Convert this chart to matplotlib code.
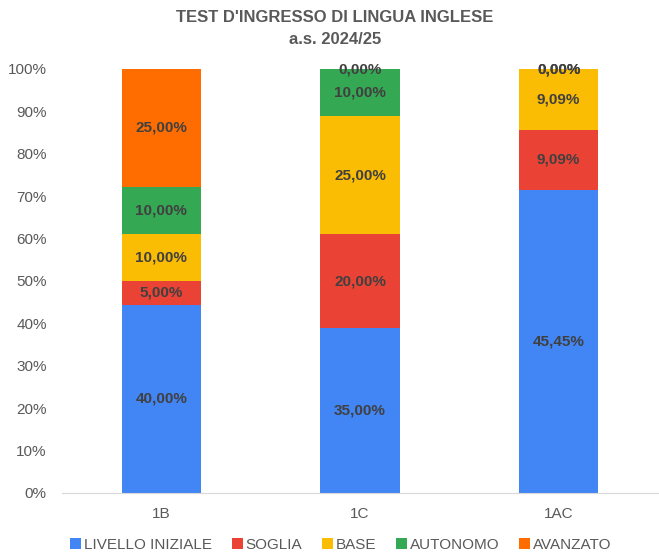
import numpy as np
import matplotlib.pyplot as plt

plt.rcParams['font.family'] = ['Liberation Sans', 'DejaVu Sans']

# Classes and raw percentages per level
classes = ['1B', '1C', '1AC']
levels = ['LIVELLO INIZIALE', 'SOGLIA', 'BASE', 'AUTONOMO', 'AVANZATO']
livello_iniziale = [40.00, 35.00, 45.45]
soglia = [5.00, 20.00, 9.09]
base = [10.00, 25.00, 9.09]
autonomo = [10.00, 10.00, 0.00]
avanzato = [25.00, 0.00, 0.00]
colors = ['#4285F4', '#EA4335', '#FBBC04', '#34A853', '#FF6D01']


def main():
    series = np.array([livello_iniziale, soglia, base, autonomo, avanzato])
    totals = series.sum(axis=0)
    shares = series / totals * 100  # 100% stacked

    fig = plt.figure(figsize=(6.59, 5.54), dpi=100)
    ax = fig.add_axes([62 / 659, 1 - 493 / 554, 596 / 659, 424 / 554])

    x = np.arange(len(classes))
    bottom = np.zeros(len(classes))
    for i, name in enumerate(levels):
        ax.bar(x, shares[i], 0.4, bottom=bottom, color=colors[i], label=name,
               edgecolor='none', zorder=2)
        for j in range(len(classes)):
            txt = f'{series[i, j]:.2f}%'.replace('.', ',')
            ax.text(x[j], bottom[j] + shares[i, j] / 2, txt, ha='center',
                    va='center', fontsize=11, fontweight='bold', color='#404040',
                    zorder=3)
        bottom += shares[i]

    ax.set_xlim(-0.5, len(classes) - 0.5)
    ax.set_ylim(0, 100)
    ax.set_yticks(range(0, 101, 10))
    ax.set_yticklabels([f'{v}%' for v in range(0, 101, 10)])
    ax.set_xticks(x)
    ax.set_xticklabels(classes)
    ax.tick_params(axis='both', length=0, labelsize=11, colors='#595959')
    ax.tick_params(axis='x', pad=10)
    ax.tick_params(axis='y', pad=11)
    for side in ['top', 'right', 'left']:
        ax.spines[side].set_visible(False)
    ax.spines['bottom'].set_color('#d9d9d9')

    fig.text(335 / 659, 1 - 18 / 554, "TEST D'INGRESSO DI LINGUA INGLESE",
             ha='center', va='center', fontsize=12, fontweight='bold',
             color='#595959')
    fig.text(335 / 659, 1 - 39 / 554, 'a.s. 2024/25', ha='center', va='center',
             fontsize=12, fontweight='bold', color='#595959')

    leg = fig.legend(loc='center', bbox_to_anchor=(341 / 659, 1 - 545 / 554),
                     ncol=5, frameon=False, fontsize=11, handlelength=0.7,
                     handleheight=0.7, handletextpad=0.2, columnspacing=1.3)
    for t in leg.get_texts():
        t.set_color('#595959')

    fig.savefig('out.png', dpi=100)


if __name__ == '__main__':
    main()
